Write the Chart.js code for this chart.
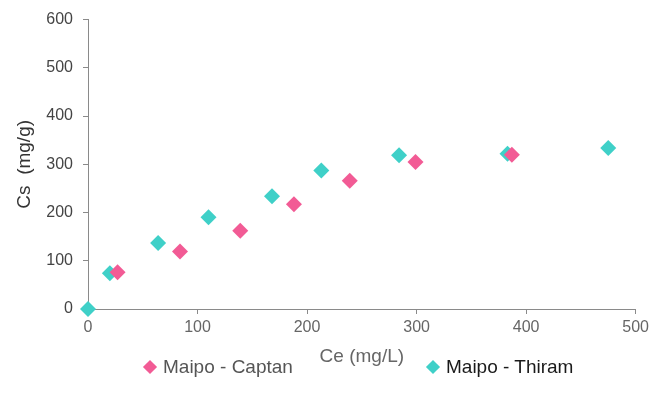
<!DOCTYPE html>
<html>
<head>
<meta charset="utf-8">
<script src="https://cdn.jsdelivr.net/npm/chart.js@4/dist/chart.umd.min.js"></script>
<style>
  html, body { margin: 0; padding: 0; background: #fff; }
  #wrap { position: relative; width: 653px; height: 405px; }
  #legend { position: absolute; top: 355px; left: 0; width: 653px; font-family: "Liberation Sans", Arial, sans-serif; font-size: 19px; }
  .item { position: absolute; display: flex; align-items: center; white-space: nowrap; line-height: 24px; }
  .dia { width: 10px; height: 10px; transform: rotate(45deg); margin-right: 8px; }
</style>
</head>
<body>
<div id="wrap">
  <canvas id="chart" width="653" height="405"></canvas>
  <div id="legend"></div>
</div>
<script>
const seriesNames = ["Maipo - Captan", "Maipo - Thiram"];
const seriesColors = ["#f25b95", "#3fd0c8"];

// Ce (mg/L) and Cs (mg/g)
const captanCe = [27, 84, 139, 188, 239, 299, 387];
const captanCs = [76, 119, 162, 217, 266, 305, 320];
const thiramCe = [0, 20, 64, 110, 168, 213, 284, 383, 475];
const thiramCs = [0, 74, 137, 190, 234, 287, 319, 322, 334];

const xTicks = [0, 100, 200, 300, 400, 500];
const yTicks = [0, 100, 200, 300, 400, 500, 600];

function toPoints(xs, ys) {
  return xs.map((x, i) => ({ x: x, y: ys[i] }));
}

const axisColor = "#8a8a8a";
const tickFont = { family: "Liberation Sans, Arial, sans-serif", size: 16 };
const titleFont = { family: "Liberation Sans, Arial, sans-serif", size: 19 };

const ctx = document.getElementById("chart").getContext("2d");
new Chart(ctx, {
  type: "scatter",
  data: {
    datasets: [
      {
        label: seriesNames[0],
        data: toPoints(captanCe, captanCs),
        pointStyle: "rectRot",
        pointRadius: 8,
        backgroundColor: seriesColors[0],
        borderColor: seriesColors[0],
        borderWidth: 0,
        clip: false
      },
      {
        label: seriesNames[1],
        data: toPoints(thiramCe, thiramCs),
        pointStyle: "rectRot",
        pointRadius: 8,
        backgroundColor: seriesColors[1],
        borderColor: seriesColors[1],
        borderWidth: 0,
        clip: false
      }
    ]
  },
  options: {
    responsive: false,
    animation: false,
    layout: { padding: { left: 10, top: 0, right: 13, bottom: 35 } },
    plugins: { legend: { display: false }, tooltip: { enabled: false } },
    scales: {
      x: {
        type: "linear",
        min: 0,
        max: 500,
        afterBuildTicks: (s) => { s.ticks = xTicks.map(v => ({ value: v })); },
        afterFit: (s) => { s.height = 61; },
        border: { color: axisColor, width: 1 },
        grid: { drawOnChartArea: false, drawTicks: true, tickLength: 5, color: axisColor },
        ticks: { color: "#666", font: tickFont, padding: 4 },
        title: { display: true, text: "Ce (mg/L)", color: "#666", font: titleFont, padding: { top: 0, bottom: 2 } }
      },
      y: {
        min: 0,
        max: 600,
        afterBuildTicks: (s) => { s.ticks = yTicks.map(v => ({ value: v })); },
        afterFit: (s) => { s.width = 78; },
        border: { color: axisColor, width: 1 },
        grid: { drawOnChartArea: false, drawTicks: true, tickLength: 5, color: axisColor },
        ticks: { color: "#444", font: tickFont, padding: 10 },
        title: { display: true, text: "Cs  (mg/g)", color: "#333", font: titleFont, padding: 3 }
      }
    }
  }
});

// legend placed under the axis title
const legend = document.getElementById("legend");
const legendX = [145, 428];
const legendText = ["#555", "#1a1a1a"];
seriesNames.forEach((name, i) => {
  const item = document.createElement("div");
  item.className = "item";
  item.style.left = legendX[i] + "px";
  item.style.color = legendText[i];
  const d = document.createElement("span");
  d.className = "dia";
  d.style.background = seriesColors[i];
  item.appendChild(d);
  item.appendChild(document.createTextNode(name));
  legend.appendChild(item);
});
</script>
</body>
</html>
